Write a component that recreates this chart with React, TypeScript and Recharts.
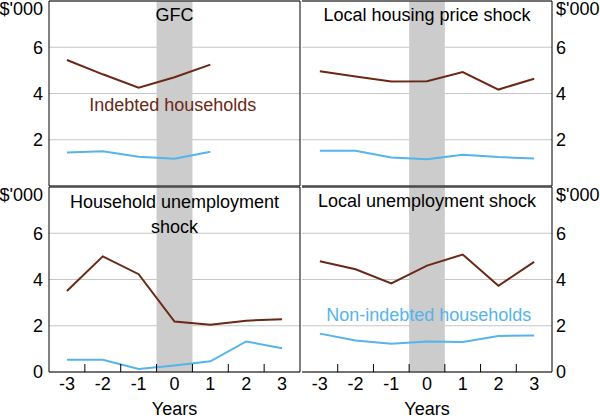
import React from "react"
import {
    LineChart,
    Line,
    XAxis,
    YAxis,
    CartesianGrid,
    ReferenceArea,
    ReferenceLine,
    ReferenceDot,
} from "recharts"

// Values, $'000, by year relative to the shock
const years = [-3, -2, -1, 0, 1, 2, 3]
const xTicks = [-3, -2.5, -2, -1.5, -1, -0.5, 0, 0.5, 1, 1.5, 2, 2.5, 3]

const gfcIndebted = [5.45, 4.83, 4.25, 4.7, 5.25, null, null]
const gfcNonIndebted = [1.45, 1.5, 1.27, 1.18, 1.48, null, null]
const housingIndebted = [4.96, 4.74, 4.52, 4.53, 4.93, 4.17, 4.64]
const housingNonIndebted = [1.52, 1.52, 1.23, 1.16, 1.35, 1.25, 1.19]
const hhUnempIndebted = [3.5, 5.0, 4.23, 2.18, 2.04, 2.22, 2.28]
const hhUnempNonIndebted = [0.53, 0.53, 0.13, 0.28, 0.46, 1.32, 1.03]
const localUnempIndebted = [4.79, 4.44, 3.83, 4.6, 5.08, 3.73, 4.76]
const localUnempNonIndebted = [1.66, 1.36, 1.22, 1.32, 1.3, 1.56, 1.58]

const topYTicks = [2, 4, 6, 8]
const bottomYTicks = [0, 2, 4, 6, 8]

const BROWN = "#6b2814"
const BLUE = "#55b4ec"
const FONT = 18

type Note = { x: number; y: number; text: string; color?: string }

const buildRows = (a: (number | null)[], b: (number | null)[]) =>
    years.map((x, i) => ({ x, indebted: a[i], nonIndebted: b[i] }))

// eslint-disable-next-line
const YTick = ({ x, y, payload, textAnchor }: any) => {
    const unit = payload.value === 8
    return (
        <text x={x} y={unit ? y + 8 : y} dy="0.355em" textAnchor={textAnchor} fontSize={FONT} fill="#000">
            {unit ? "$'000" : payload.value}
        </text>
    )
}

// eslint-disable-next-line
const XTick = ({ x, y, payload }: any) => {
    const v = payload.value
    if (Number.isInteger(v)) {
        return (
            <text x={x} y={y + 12} dy="0.355em" textAnchor="middle" fontSize={FONT} fill="#000">
                {v}
            </text>
        )
    }
    return <line x1={x} x2={x} y1={y} y2={y - 8} stroke="#000" />
}

interface PanelProps {
    rows: ReturnType<typeof buildRows>
    side: "left" | "right"
    row: "top" | "bottom"
    notes: Note[]
}

const Panel: React.FC<PanelProps> = ({ rows, side, row, notes }) => {
    // axes take 1px each, so margins are one less than the plot edges
    const margin = {
        top: row === "top" ? 1 : 187,
        bottom: row === "top" ? 233 : 47,
        left: side === "left" ? 48 : 302,
        right: side === "left" ? 300 : 47,
    }
    const bottom = row === "bottom"
    return (
        <div style={{ position: "absolute", left: 0, top: 0 }}>
            <LineChart width={600} height={420} data={rows} margin={margin}>
                <CartesianGrid vertical={false} stroke="#c6c6c6" />
                <ReferenceArea x1={-0.5} x2={0.5} fill="#cccccc" fillOpacity={1} stroke="none" ifOverflow="visible" />
                <XAxis
                    dataKey="x"
                    type="number"
                    domain={[-3.5, 3.5]}
                    ticks={bottom ? xTicks : [0]}
                    interval={0}
                    height={1}
                    tickSize={0}
                    tickMargin={0}
                    tickLine={false}
                    tick={bottom ? <XTick /> : false}
                    axisLine={{ stroke: "#000" }}
                    label={bottom ? { value: "Years", position: "bottom", offset: 29, fontSize: FONT, fill: "#000" } : undefined}
                />
                <YAxis
                    type="number"
                    orientation={side}
                    domain={[0, 8]}
                    ticks={bottom ? bottomYTicks : topYTicks}
                    interval={0}
                    width={1}
                    tickSize={0}
                    tickMargin={side === "left" ? 6 : 4}
                    tickLine={false}
                    tick={<YTick />}
                    axisLine={{ stroke: "#000" }}
                />
                <Line dataKey="indebted" stroke={BROWN} strokeWidth={2} dot={false} isAnimationActive={false} />
                <Line dataKey="nonIndebted" stroke={BLUE} strokeWidth={2} dot={false} isAnimationActive={false} />
                <ReferenceLine y={8} stroke="#000" ifOverflow="visible" />
                {side === "left" && <ReferenceLine x={3.5} stroke="#000" ifOverflow="visible" />}
                {notes.map((n, i) => (
                    <ReferenceDot
                        key={`note-${i}`}
                        x={n.x}
                        y={n.y}
                        r={0}
                        fill="none"
                        stroke="none"
                        ifOverflow="visible"
                        label={{ value: n.text, position: "center", fontSize: FONT, fill: n.color || "#000" }}
                    />
                ))}
            </LineChart>
        </div>
    )
}

export default function App() {
    return (
        <div
            style={{
                position: "absolute",
                left: 0,
                top: 0,
                width: 600,
                height: 420,
                overflow: "hidden",
                background: "#fff",
                fontFamily: "'Liberation Sans', Arial, sans-serif",
            }}
        >
            <Panel
                rows={buildRows(gfcIndebted, gfcNonIndebted)}
                side="left"
                row="top"
                notes={[
                    { x: 0, y: 7.39, text: "GFC" },
                    { x: -0.05, y: 3.5, text: "Indebted households", color: BROWN },
                ]}
            />
            <Panel
                rows={buildRows(housingIndebted, housingNonIndebted)}
                side="right"
                row="top"
                notes={[{ x: 0, y: 7.39, text: "Local housing price shock" }]}
            />
            <Panel
                rows={buildRows(hhUnempIndebted, hhUnempNonIndebted)}
                side="left"
                row="bottom"
                notes={[
                    { x: 0, y: 7.35, text: "Household unemployment" },
                    { x: 0, y: 6.27, text: "shock" },
                ]}
            />
            <Panel
                rows={buildRows(localUnempIndebted, localUnempNonIndebted)}
                side="right"
                row="bottom"
                notes={[
                    { x: 0, y: 7.39, text: "Local unemployment shock" },
                    { x: 0.05, y: 2.5, text: "Non-indebted households", color: BLUE },
                ]}
            />
        </div>
    )
}
